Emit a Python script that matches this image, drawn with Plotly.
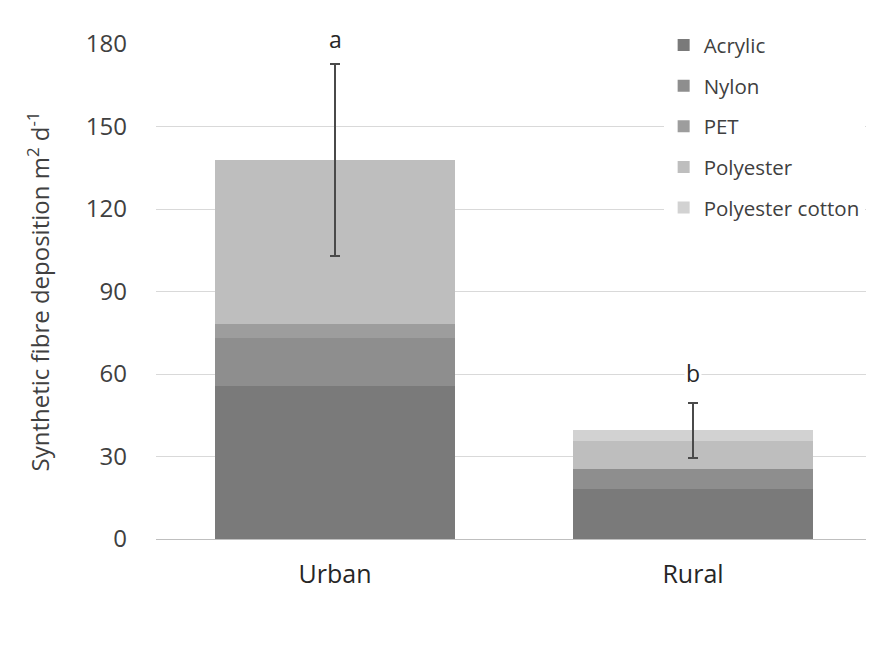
import plotly.graph_objects as go

categories = ["Urban", "Rural"]
acrylic = [55.6, 18.1]
nylon = [17.6, 7.2]
pet = [5.1, 0.0]
polyester = [59.5, 10.3]
polyester_cotton = [0.0, 3.9]
total_error = [35, 10]
sig_labels = ["a", "b"]
sig_label_y = [182, 60.5]
y_max = 180

series = [
    ("Acrylic", acrylic, "#7a7a7a"),
    ("Nylon", nylon, "#8e8e8e"),
    ("PET", pet, "#9d9d9d"),
    ("Polyester", polyester, "#bebebe"),
    ("Polyester cotton", polyester_cotton, "#d2d2d2"),
]

fig = go.Figure()
for i, (name, vals, col) in enumerate(series):
    kw = {}
    if i == len(series) - 1:
        kw["error_y"] = dict(type="data", array=total_error, visible=True,
                             color="#4a4a4a", thickness=1.8, width=5)
    fig.add_trace(go.Bar(x=categories, y=vals, name=name, marker_color=col,
                         marker_line_width=0, legendgroup=name, **kw))

for c, lab, yv in zip(categories, sig_labels, sig_label_y):
    fig.add_annotation(x=c, xref="x", y=yv / y_max, yref="paper", text=lab,
                       showarrow=False, font=dict(size=23, color="#262626"),
                       bgcolor="white", yanchor="middle")

fig.update_layout(
    width=874, height=661,
    barmode="stack", bargap=0.33,
    plot_bgcolor="white", paper_bgcolor="white",
    font=dict(family="Open Sans", color="#404040"),
    margin=dict(l=148, r=10, t=36, b=130, autoexpand=False),
    legend=dict(x=0.709, y=1.038, xanchor="left", yanchor="top",
                traceorder="grouped", tracegroupgap=11,
                font=dict(size=20.5, color="#404040"),
                bgcolor="white", itemwidth=30),
    yaxis=dict(range=[0, y_max], tickvals=[0, 30, 60, 90, 120, 150, 180],
               gridcolor="#d9d9d9", gridwidth=1, zeroline=True,
               zerolinecolor="#bfbfbf", zerolinewidth=1,
               tickfont=dict(size=24, color="#404040"), ticks="",
               ticklabelstandoff=28,
               title=dict(text="Synthetic fibre deposition m<sup>2</sup> d<sup>-1</sup>",
                          font=dict(size=24, color="#404040"), standoff=29)),
    xaxis=dict(tickfont=dict(size=25, color="#262626"), ticks="",
               showline=False, ticklabelstandoff=18),
)

fig.write_html("out.html")
